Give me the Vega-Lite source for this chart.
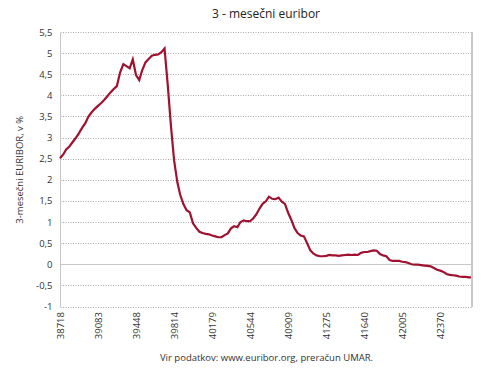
{
  "$schema": "https://vega.github.io/schema/vega-lite/v6.json",
  "autosize": "none",
  "width": 412,
  "height": 274.5,
  "padding": {"left": 60, "top": 32, "right": 18, "bottom": 71.5},
  "background": "white",
  "config": {
    "font": "Open Sans",
    "view": {"stroke": null}
  },
  "title": {
    "text": "3 - mesečni euribor",
    "fontSize": 12,
    "fontWeight": "normal",
    "color": "#222222",
    "offset": 6,
    "anchor": "middle"
  },
  "data": {
    "values": [
      {"d": 38718, "v": 2.51}, {"d": 38749, "v": 2.60}, {"d": 38777, "v": 2.72}, {"d": 38808, "v": 2.79},
      {"d": 38838, "v": 2.89}, {"d": 38869, "v": 2.99}, {"d": 38899, "v": 3.10}, {"d": 38930, "v": 3.23},
      {"d": 38961, "v": 3.34}, {"d": 38991, "v": 3.50}, {"d": 39022, "v": 3.60}, {"d": 39052, "v": 3.68},
      {"d": 39083, "v": 3.75}, {"d": 39114, "v": 3.82}, {"d": 39142, "v": 3.89}, {"d": 39173, "v": 3.98},
      {"d": 39203, "v": 4.07}, {"d": 39234, "v": 4.15}, {"d": 39264, "v": 4.22}, {"d": 39295, "v": 4.54},
      {"d": 39326, "v": 4.74}, {"d": 39356, "v": 4.69}, {"d": 39387, "v": 4.64}, {"d": 39417, "v": 4.85},
      {"d": 39448, "v": 4.48}, {"d": 39479, "v": 4.36}, {"d": 39508, "v": 4.60}, {"d": 39539, "v": 4.78},
      {"d": 39569, "v": 4.86}, {"d": 39600, "v": 4.94}, {"d": 39630, "v": 4.96}, {"d": 39661, "v": 4.97},
      {"d": 39692, "v": 5.02}, {"d": 39722, "v": 5.11}, {"d": 39753, "v": 4.24}, {"d": 39783, "v": 3.29},
      {"d": 39814, "v": 2.46}, {"d": 39845, "v": 1.94}, {"d": 39873, "v": 1.64}, {"d": 39904, "v": 1.42},
      {"d": 39934, "v": 1.28}, {"d": 39965, "v": 1.23}, {"d": 39995, "v": 0.97}, {"d": 40026, "v": 0.86},
      {"d": 40057, "v": 0.77}, {"d": 40087, "v": 0.74}, {"d": 40118, "v": 0.72}, {"d": 40148, "v": 0.71},
      {"d": 40179, "v": 0.68}, {"d": 40210, "v": 0.66}, {"d": 40238, "v": 0.64}, {"d": 40269, "v": 0.64},
      {"d": 40299, "v": 0.69}, {"d": 40330, "v": 0.73}, {"d": 40360, "v": 0.85}, {"d": 40391, "v": 0.90},
      {"d": 40422, "v": 0.88}, {"d": 40452, "v": 1.00}, {"d": 40483, "v": 1.04}, {"d": 40513, "v": 1.02},
      {"d": 40544, "v": 1.02}, {"d": 40575, "v": 1.09}, {"d": 40603, "v": 1.18}, {"d": 40634, "v": 1.32},
      {"d": 40664, "v": 1.43}, {"d": 40695, "v": 1.49}, {"d": 40725, "v": 1.60}, {"d": 40756, "v": 1.55},
      {"d": 40787, "v": 1.54}, {"d": 40817, "v": 1.58}, {"d": 40848, "v": 1.48}, {"d": 40878, "v": 1.43},
      {"d": 40909, "v": 1.22}, {"d": 40940, "v": 1.05}, {"d": 40969, "v": 0.86}, {"d": 41000, "v": 0.74},
      {"d": 41030, "v": 0.68}, {"d": 41061, "v": 0.66}, {"d": 41091, "v": 0.50}, {"d": 41122, "v": 0.33},
      {"d": 41153, "v": 0.25}, {"d": 41183, "v": 0.21}, {"d": 41214, "v": 0.19}, {"d": 41244, "v": 0.19},
      {"d": 41275, "v": 0.20}, {"d": 41306, "v": 0.22}, {"d": 41334, "v": 0.21}, {"d": 41365, "v": 0.21},
      {"d": 41395, "v": 0.20}, {"d": 41426, "v": 0.21}, {"d": 41456, "v": 0.22}, {"d": 41487, "v": 0.23},
      {"d": 41518, "v": 0.22}, {"d": 41548, "v": 0.23}, {"d": 41579, "v": 0.22}, {"d": 41609, "v": 0.27},
      {"d": 41640, "v": 0.29}, {"d": 41671, "v": 0.29}, {"d": 41699, "v": 0.31}, {"d": 41730, "v": 0.33},
      {"d": 41760, "v": 0.32}, {"d": 41791, "v": 0.24}, {"d": 41821, "v": 0.21}, {"d": 41852, "v": 0.19},
      {"d": 41883, "v": 0.10}, {"d": 41913, "v": 0.08}, {"d": 41944, "v": 0.08}, {"d": 41974, "v": 0.08},
      {"d": 42005, "v": 0.06}, {"d": 42036, "v": 0.05}, {"d": 42064, "v": 0.03}, {"d": 42095, "v": 0.00},
      {"d": 42125, "v": -0.01}, {"d": 42156, "v": -0.01}, {"d": 42186, "v": -0.02}, {"d": 42217, "v": -0.03},
      {"d": 42248, "v": -0.04}, {"d": 42278, "v": -0.05}, {"d": 42309, "v": -0.09}, {"d": 42339, "v": -0.13},
      {"d": 42370, "v": -0.15}, {"d": 42401, "v": -0.18}, {"d": 42430, "v": -0.23}, {"d": 42461, "v": -0.25},
      {"d": 42491, "v": -0.26}, {"d": 42522, "v": -0.27}, {"d": 42552, "v": -0.29}, {"d": 42583, "v": -0.30},
      {"d": 42614, "v": -0.30}, {"d": 42644, "v": -0.31}, {"d": 42675, "v": -0.31}
    ]
  },
  "layer": [
    {
      "mark": {"type": "line", "color": "#a0122f", "strokeWidth": 2.2, "interpolate": "linear"},
      "encoding": {
        "x": {
          "field": "d",
          "type": "quantitative",
          "scale": {"domain": [38718, 42675], "nice": false, "zero": false},
          "axis": {
            "values": [38718, 39083, 39448, 39814, 40179, 40544, 40909, 41275, 41640, 42005, 42370],
            "format": "d",
            "labelAngle": -90,
            "labelAlign": "right",
            "labelBaseline": "middle",
            "labelFontSize": 9.5,
            "labelColor": "#333333",
            "labelPadding": 5,
            "labelOverlap": false,
            "ticks": false,
            "domain": false,
            "grid": false,
            "title": "Vir podatkov: www.euribor.org, preračun UMAR.",
            "titleFontSize": 9.5,
            "titleFontWeight": "normal",
            "titleColor": "#333333",
            "titlePadding": 14
          }
        },
        "y": {
          "field": "v",
          "type": "quantitative",
          "scale": {"domain": [-1, 5.5], "nice": false, "zero": false},
          "axis": {
            "values": [-1, -0.5, 0, 0.5, 1, 1.5, 2, 2.5, 3, 3.5, 4, 4.5, 5, 5.5],
            "labelExpr": "replace(toString(datum.value), '.', ',')",
            "labelFontSize": 9.5,
            "labelColor": "#333333",
            "labelPadding": 8,
            "labelOverlap": false,
            "ticks": false,
            "domain": true,
            "domainColor": "#c8c8c8",
            "grid": true,
            "gridColor": {"condition": {"test": "datum.value === 0", "value": "#c8c8c8"}, "value": "#a8a8a8"},
            "gridDash": {"condition": {"test": "datum.value === 0", "value": []}, "value": [1, 1.5]},
            "gridWidth": 1,
            "title": "3-mesečni EURIBOR, v %",
            "titleFontSize": 9.5,
            "titleFontWeight": "normal",
            "titleColor": "#333333",
            "titlePadding": 11
          }
        }
      }
    },
    {
      "mark": {"type": "rule", "color": "#c8c8c8", "strokeWidth": 1},
      "encoding": {"x": {"datum": 42675, "type": "quantitative"}}
    }
  ]
}
